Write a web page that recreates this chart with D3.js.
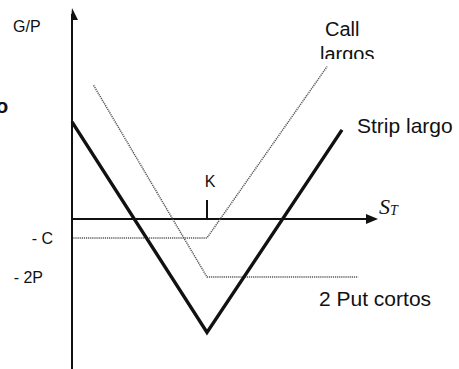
<!DOCTYPE html>
<html>
<head>
<meta charset="utf-8">
<script src="https://cdn.jsdelivr.net/npm/d3@7"></script>
<style>
  body { margin: 0; background: #fff; }
  text { font-family: "Liberation Sans", Arial, sans-serif; fill: #111; }
</style>
</head>
<body>
<div id="div_chart"></div>
<script>
// Data (S_T on x, G/P on y, K = 100)
var stripS = [0, 100, 200];
var stripGP = [72, -84, 66];
var callS = [1, 100, 189];
var callGP = [-14, -14, 113];
var putS = [16, 100, 212];
var putGP = [99, -43, -43];
var levelLabels = ["- C", "- 2P"];
var levelValues = [-14, -43];
var strikeValue = 100;
var strikeLabel = "K";

// Basic size information
var svgWidth = 459;
var svgHeight = 369;
var originX = 72, originY = 219;
var pxPerUnit = 1.35;

var svg = d3.select("#div_chart")
    .append("svg")
        .attr("width", svgWidth)
        .attr("height", svgHeight);

// Scales
var x = d3.scaleLinear()
    .domain([0, 100])
    .range([originX, originX + 100 * pxPerUnit]);
var y = d3.scaleLinear()
    .domain([0, 100])
    .range([originY, originY - 100 * pxPerUnit]);

var line = d3.line()
    .x(d => x(d[0]))
    .y(d => y(d[1]));

// Axes
svg.append("line")
    .attr("x1", x(0)).attr("x2", 367)
    .attr("y1", y(0)).attr("y2", y(0))
    .attr("stroke", "#111").attr("stroke-width", 2);
svg.append("path")
    .attr("d", "M366," + (y(0) - 5) + "L378," + y(0) + "L366," + (y(0) + 5) + "Z")
    .attr("fill", "#111");

svg.append("line")
    .attr("x1", x(0)).attr("x2", x(0))
    .attr("y1", 14).attr("y2", svgHeight)
    .attr("stroke", "#111").attr("stroke-width", 2);
svg.append("path")
    .attr("d", "M" + x(0) + ",8L" + (x(0) - 1) + ",20L" + (x(0) + 6) + ",20Z")
    .attr("fill", "#111");

// Strike tick
svg.append("line")
    .attr("x1", x(strikeValue)).attr("x2", x(strikeValue))
    .attr("y1", y(0) - 19).attr("y2", y(0))
    .attr("stroke", "#111").attr("stroke-width", 2);
svg.append("text")
    .attr("x", x(strikeValue) + 3).attr("y", y(0) - 32)
    .attr("text-anchor", "middle")
    .style("font-size", "16px")
    .text(strikeLabel);

// Dotted legs
var dotted = [
    d3.zip(callS, callGP),
    d3.zip(putS, putGP)
];
svg.selectAll(".leg")
    .data(dotted)
    .join("path")
        .attr("class", "leg")
        .attr("d", line)
        .attr("fill", "none")
        .attr("stroke", "#555")
        .attr("stroke-width", 1.5)
        .attr("stroke-dasharray", "1.2,0.9");

// Strip (solid)
svg.append("path")
    .attr("d", line(d3.zip(stripS, stripGP)))
    .attr("fill", "none")
    .attr("stroke", "#111")
    .attr("stroke-width", 3.4)
    .attr("stroke-linejoin", "miter");

// Level labels on the y axis
var levelDx = [53, 43];
svg.selectAll(".lvl")
    .data(levelValues)
    .join("text")
        .attr("class", "lvl")
        .attr("x", (d, i) => levelDx[i])
        .attr("y", d => y(d) + 6)
        .attr("text-anchor", "end")
        .style("font-size", "16px")
        .text((d, i) => levelLabels[i]);

// Titles
svg.append("text")
    .attr("x", 13).attr("y", 32)
    .style("font-size", "16px")
    .text("G/P");

svg.append("text")
    .attr("x", -4).attr("y", 113)
    .style("font-size", "20px")
    .style("font-weight", "bold")
    .text("o");

svg.append("text")
    .attr("x", 325).attr("y", 36)
    .style("font-size", "20px")
    .text("Call");

svg.append("clipPath")
    .attr("id", "clipLargos")
    .append("rect")
        .attr("x", 300).attr("y", 38)
        .attr("width", 100).attr("height", 21);
svg.append("text")
    .attr("x", 320).attr("y", 61)
    .attr("clip-path", "url(#clipLargos)")
    .style("font-size", "20px")
    .text("largos");

svg.append("text")
    .attr("x", 357).attr("y", 133)
    .style("font-size", "21px")
    .text("Strip largo");

svg.append("text")
    .attr("x", 319).attr("y", 306)
    .style("font-size", "21px")
    .text("2 Put cortos");

// S_T label
var st = svg.append("text")
    .attr("x", 379).attr("y", 214)
    .style("font-family", "'Liberation Serif', 'Times New Roman', serif")
    .style("font-style", "italic")
    .style("font-size", "22px");
st.append("tspan").text("S");
st.append("tspan")
    .attr("dy", 1)
    .style("font-size", "14px")
    .text("T");
</script>
</body>
</html>
